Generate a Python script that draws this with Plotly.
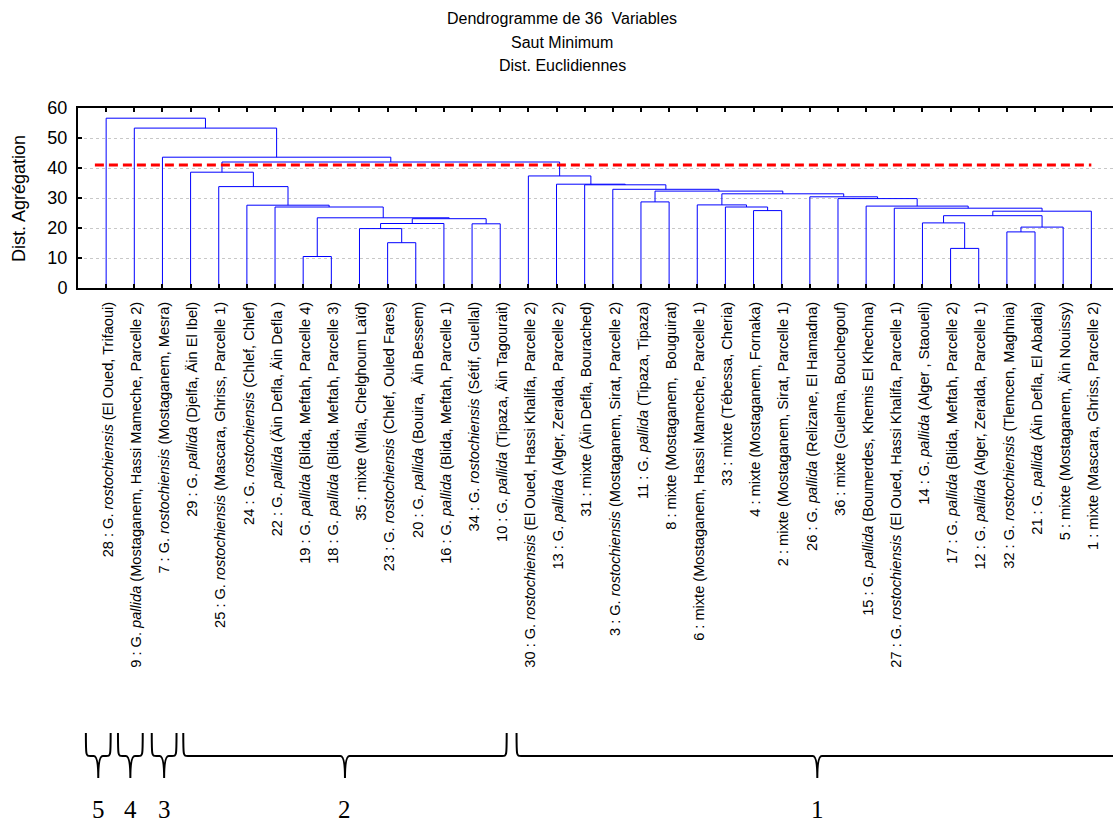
import plotly.graph_objects as go

# ---------------- data ----------------
leaf_labels = [
    "28 : G. <i>rostochiensis</i> (El Oued, Trifaoui)",
    "9 : G. <i>pallida</i> (Mostaganem, Hassi Mameche, Parcelle 2)",
    "7 : G. <i>rostochiensis</i> (Mostaganem, Mesra)",
    "29 : G. <i>pallida</i> (Djelfa, Äin El Ibel)",
    "25 : G. <i>rostochiensis</i> (Mascara, Ghriss, Parcelle 1)",
    "24 : G. <i>rostochiensis</i> (Chlef, Chlef)",
    "22 : G. <i>pallida</i> (Äin Defla, Äin Defla )",
    "19 : G. <i>pallida</i> (Blida, Meftah, Parcelle 4)",
    "18 : G. <i>pallida</i> (Blida, Meftah, Parcelle 3)",
    "35 : mixte (Mila, Chelghoum Laïd)",
    "23 : G. <i>rostochiensis</i> (Chlef, Ouled Fares)",
    "20 : G. <i>pallida</i> (Bouira,  Äin Bessem)",
    "16 : G. <i>pallida</i> (Blida, Meftah, Parcelle 1)",
    "34 : G. <i>rostochiensis</i> (Sétif, Guellal)",
    "10 : G. <i>pallida</i> (Tipaza, Äin Tagourait)",
    "30 : G. <i>rostochiensis</i> (El Oued, Hassi Khalifa, Parcelle 2)",
    "13 : G. <i>pallida</i> (Alger, Zeralda, Parcelle 2)",
    "31 : mixte (Äin Defla, Bourached)",
    "3 : G. <i>rostochiensis</i> (Mostaganem, Sirat, Parcelle 2)",
    "11 : G. <i>pallida</i> (Tipaza, Tipaza)",
    "8 : mixte (Mostaganem,  Bouguirat)",
    "6 : mixte (Mostaganem, Hassi Mameche, Parcelle 1)",
    "33 : mixte (Tébessa, Cheria)",
    "4 : mixte (Mostaganem, Fornaka)",
    "2 : mixte (Mostaganem, Sirat, Parcelle 1)",
    "26 : G. <i>pallida</i> (Relizane, El Hamadna)",
    "36 : mixte (Guelma, Bouchegouf)",
    "15 : G. <i>pallida</i> (Boumerdes, Khemis El Khechna)",
    "27 : G. <i>rostochiensis</i> (El Oued, Hassi Khalifa, Parcelle 1)",
    "14 : G. <i>pallida</i> (Alger , Staoueli)",
    "17 : G. <i>pallida</i> (Blida, Meftah, Parcelle 2)",
    "12 : G. <i>pallida</i> (Alger, Zeralda, Parcelle 1)",
    "32 : G. <i>rostochiensis</i> (Tlemcen, Maghnia)",
    "21 : G. <i>pallida</i> (Äin Defla, El Abadia)",
    "5 : mixte (Mostaganem, Äin Nouissy)",
    "1 : mixte (Mascara, Ghriss, Parcelle 2)",
]

# merges: ints = leaf position (1-based, plotted order), "cN" = result of N-th merge
merge_left = [8, 31, 11, 33, 10, "c4", 30, 14, "c5", "c9", "c1", "c7", "c12", 24, 29,
              23, 7, 28, 6, 22, 20, 27, 26, "c20", "c21", 19, 5, 18, 17, 16, 4, "c31", 3, 2, 1]
merge_right = [9, 32, 12, 34, "c3", 35, "c2", 15, 13, "c8", "c10", "c6", 36, 25, "c13",
               "c14", "c11", "c15", "c17", "c16", 21, "c18", "c22", "c23", "c24", "c25",
               "c19", "c26", "c28", "c29", "c27", "c30", "c32", "c33", "c34"]
merge_height = [10.5, 13.2, 15.1, 18.7, 19.8, 20.3, 21.7, 21.4, 21.5, 23.1, 23.4, 24.1,
                25.6, 25.8, 26.6, 27.0, 27.0, 27.3, 27.6, 27.7, 28.7, 29.8, 30.4, 31.4,
                32.3, 32.9, 33.8, 34.4, 34.6, 37.35, 38.6, 42.0, 43.6, 53.3, 56.6]

cut_height = 41
cut_span = (0.6, 36)

y_ticks = [0, 10, 20, 30, 40, 50, 60]

# groups marked with braces below the labels (in leaf-position units)
brace_labels = ["5", "4", "3", "2", "1"]
brace_start = [0.28, 1.42, 2.62, 3.74, 15.58]
brace_end = [1.16, 2.30, 3.50, 15.23, 36.95]
brace_open_right = [False, False, False, False, True]

# ---------------- dendrogram links ----------------
node_x = {}
node_h = {}


def get(node):
    if isinstance(node, int):
        return float(node), 0.0
    return node_x[node], node_h[node]


lx, ly = [], []
for k, (a, b, h) in enumerate(zip(merge_left, merge_right, merge_height), start=1):
    xa, ha = get(a)
    xb, hb = get(b)
    lx += [xa, xa, xb, xb, None]
    ly += [ha, h, h, hb, None]
    node_x["c%d" % k] = (xa + xb) / 2
    node_h["c%d" % k] = h

fig = go.Figure()
fig.add_trace(go.Scatter(x=lx, y=ly, mode="lines",
                         line=dict(color="#0000FF", width=1),
                         hoverinfo="skip", showlegend=False))
fig.add_trace(go.Scatter(x=list(cut_span), y=[cut_height, cut_height], mode="lines",
                         line=dict(color="#FF0000", width=3, dash="9px,5px"),
                         hoverinfo="skip", showlegend=False))

positions = list(range(1, len(leaf_labels) + 1))

# plot area geometry (px)
PLOT_TOP, PLOT_BOTTOM = 108, 288
PH = PLOT_BOTTOM - PLOT_TOP


def py(px):
    return (PLOT_BOTTOM - px) / PH


# braces
shapes = []
annotations = []
ytop, yh, ytip = py(733), py(756), py(778)
for lab, x0, x1, open_r in zip(brace_labels, brace_start, brace_end, brace_open_right):
    xc = (x0 + x1) / 2
    r = 0.16
    path = (f"M {x0},{ytop} C {x0},{yh} {x0},{yh} {x0 + r},{yh} "
            f"L {xc - r},{yh} Q {xc},{yh} {xc},{ytip} "
            f"Q {xc},{yh} {xc + r},{yh} ")
    if open_r:
        path += f"L {x1 + 1},{yh}"
    else:
        path += f"L {x1 - r},{yh} C {x1},{yh} {x1},{yh} {x1},{ytop}"
    shapes.append(dict(type="path", path=path, xref="x", yref="paper",
                       line=dict(color="black", width=2)))
    annotations.append(dict(text=lab, x=xc, y=py(809), xref="x", yref="paper",
                            showarrow=False, xanchor="center", yanchor="middle",
                            font=dict(family="Liberation Serif, Times New Roman, serif",
                                      size=25, color="black")))

# titles
title_lines = ["Dendrogramme de 36  Variables", "Saut Minimum", "Dist. Euclidiennes"]
for txt, ypx in zip(title_lines, [18, 42, 66]):
    annotations.append(dict(text=txt, x=(562 - 78) / 1035, y=py(ypx), xref="paper",
                            yref="paper", showarrow=False, xanchor="center",
                            yanchor="middle",
                            font=dict(family="Liberation Sans, Arial", size=16,
                                      color="black")))

annotations.append(dict(text="Dist. Agrégation", x=(19 - 78) / 1035, y=py(199),
                        xref="paper", yref="paper", showarrow=False, textangle=-90,
                        xanchor="center", yanchor="middle",
                        font=dict(family="Liberation Sans, Arial", size=18,
                                  color="black")))

fig.update_layout(
    width=1113, height=823,
    margin=dict(l=78, r=0, t=PLOT_TOP, b=823 - PLOT_BOTTOM, pad=0),
    paper_bgcolor="white", plot_bgcolor="white",
    shapes=shapes, annotations=annotations,
    showlegend=False,
)
fig.update_xaxes(range=[0, 36.77], tickvals=positions, ticktext=leaf_labels,
                 tickangle=-90, ticks="inside", ticklen=4, tickwidth=2,
                 tickcolor="black", showline=True, linewidth=2, linecolor="black",
                 mirror="ticks", showgrid=False, zeroline=False,
                 ticklabelstandoff=6, ticklabelshift=2,
                 tickfont=dict(family="Liberation Sans, Arial", size=14.6,
                               color="black"))
fig.update_yaxes(range=[0, 60], tickvals=y_ticks, ticks="inside", ticklen=4,
                 tickwidth=2, tickcolor="black", showline=True, linewidth=2,
                 linecolor="black", mirror=False, showgrid=True,
                 gridcolor="#c8c8c8", griddash="dot", gridwidth=1, zeroline=False,
                 ticklabelstandoff=5,
                 tickfont=dict(family="Liberation Sans, Arial", size=18,
                               color="black"))

fig.write_html("out.html")
